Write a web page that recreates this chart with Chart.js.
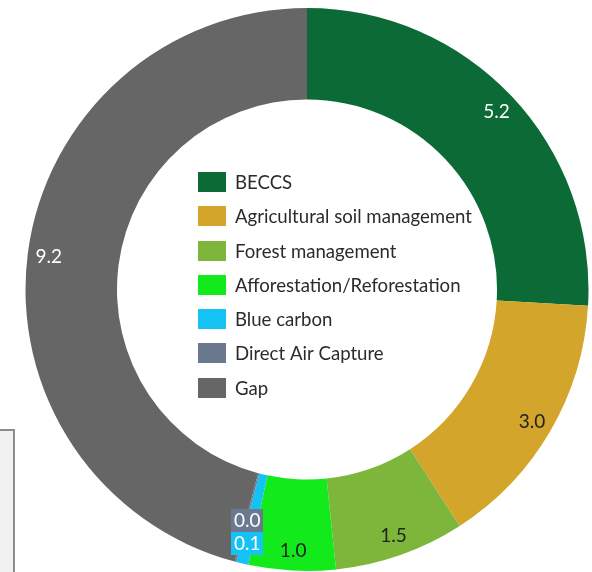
<!DOCTYPE html>
<html>
<head>
<meta charset="utf-8">
<script src="https://cdn.jsdelivr.net/npm/chart.js@4"></script>
<style>
  html, body { margin: 0; padding: 0; background: #ffffff; overflow: hidden; }
  #wrap { position: relative; width: 592px; height: 572px; }
  #side { position: absolute; left: -10px; top: 429px; width: 21px; height: 200px;
          background: #f1f1f1; border: 2px solid #8c8c8c; }
  canvas { position: absolute; left: 0; top: 0; }
</style>
</head>
<body>
<div id="wrap">
  <div id="side"></div>
  <canvas id="c" width="592" height="572"></canvas>
</div>
<script>
const categories = ["BECCS", "Agricultural soil management", "Forest management",
  "Afforestation/Reforestation", "Blue carbon", "Direct Air Capture", "Gap"];
const values = [5.2, 3.0, 1.5, 1.0, 0.14, 0.02, 9.2];
const colors = ["#0b6a35", "#d4a52b", "#7db63b", "#12ea1c", "#14c3f3", "#6b7990", "#666666"];
const labelColors = ["#ffffff", "#222222", "#222222", "#222222", "#ffffff", "#ffffff", "#ffffff"];

const FONT = "Lato, 'Open Sans', sans-serif";

const labelPlugin = {
  id: 'sliceLabels',
  afterDatasetsDraw(chart) {
    const ctx = chart.ctx;
    const meta = chart.getDatasetMeta(0);
    ctx.save();
    ctx.font = "19px " + FONT;
    ctx.textAlign = "center";
    ctx.textBaseline = "middle";
    const placed = [];
    meta.data.forEach((arc, i) => {
      const p = arc.getProps(['x', 'y', 'startAngle', 'endAngle', 'outerRadius'], true);
      const mid = (p.startAngle + p.endAngle) / 2;
      const r = p.outerRadius - 21;
      let x = p.x + Math.cos(mid) * r;
      let y = p.y + Math.sin(mid) * r;
      const txt = values[i].toFixed(1);
      const w = ctx.measureText(txt).width + 5;
      const h = 23;
      for (const q of placed) {
        if (Math.abs(q.x - x) < (q.w + w) / 2 && Math.abs(q.y - y) < h) {
          y = q.y - h;
          x = q.x;
        }
      }
      placed.push({x, y, w});
      ctx.fillStyle = colors[i];
      ctx.fillRect(Math.round(x - w / 2), Math.round(y - h / 2), Math.round(w), h);
      ctx.fillStyle = labelColors[i];
      ctx.fillText(txt, x, y + 1);
    });
    ctx.restore();
  }
};

const legendPlugin = {
  id: 'centerLegend',
  afterDraw(chart) {
    const ctx = chart.ctx;
    ctx.save();
    ctx.font = "18.6px " + FONT;
    ctx.textBaseline = "middle";
    ctx.textAlign = "left";
    const x0 = 198, y0 = 182, step = 34.25, bw = 28, bh = 20;
    categories.forEach((name, i) => {
      const cy = y0 + i * step;
      ctx.fillStyle = colors[i];
      ctx.fillRect(x0, Math.round(cy - bh / 2), bw, bh);
      ctx.fillStyle = "#2b2b2b";
      ctx.fillText(name, 235, cy + 1);
    });
    ctx.restore();
  }
};

new Chart(document.getElementById('c'), {
  type: 'doughnut',
  data: {
    labels: categories,
    datasets: [{
      data: values,
      backgroundColor: colors,
      borderWidth: 0
    }]
  },
  options: {
    responsive: false,
    animation: false,
    cutout: '67.5%',
    layout: { padding: { left: 25.5, right: 3.5, top: 8, bottom: 1 } },
    plugins: {
      legend: { display: false },
      tooltip: { enabled: false },
      title: { display: false }
    }
  },
  plugins: [labelPlugin, legendPlugin]
});
</script>
</body>
</html>
